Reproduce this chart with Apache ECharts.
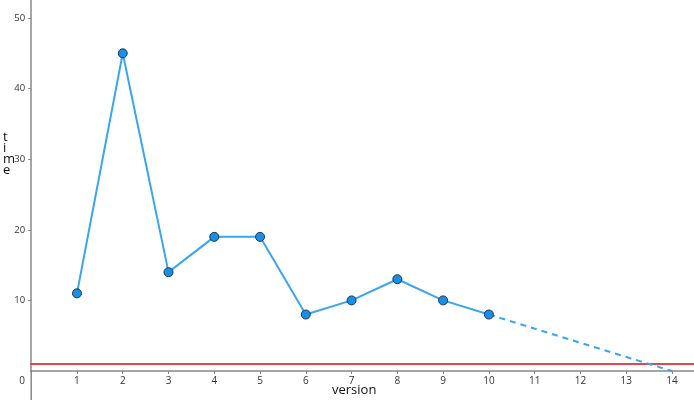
<!DOCTYPE html>
<html>
<head>
<meta charset="utf-8">
<script src="https://cdn.jsdelivr.net/npm/echarts@6/dist/echarts.min.js"></script>
<style>html,body{margin:0;padding:0;background:#fff;}#c{width:694px;height:400px;}</style>
</head>
<body>
<div id="c"></div>
<script>
const versions = [1, 2, 3, 4, 5, 6, 7, 8, 9, 10];
const times = [11, 45, 14, 19, 19, 8, 10, 13, 10, 8];
const trendX = [10, 14];
const trendY = [8, 0];
const redLevel = 1;
const xTicks = [0, 1, 2, 3, 4, 5, 6, 7, 8, 9, 10, 11, 12, 13, 14];
const yTicks = [10, 20, 30, 40, 50];
const xName = 'version';
const yName = 'time';

const chart = echarts.init(document.getElementById('c'));
const W = 694, H = 400;
const x0 = 31.2, y0 = 371;          // pixel position of origin
const pxX = 45.77, pxY = 7.06;      // pixels per unit
const xMax = (W - x0) / pxX, yMax = y0 / pxY;
const xLeft = -x0 / pxX, yBottom = -(H - y0) / pxY;

chart.setOption({
  animation: false,
  grid: { left: x0, top: 0, right: 0, bottom: H - y0, containLabel: false, outerBoundsMode: 'none' },
  xAxis: {
    type: 'value', min: 0, max: xMax,
    axisLine: { show: true, lineStyle: { color: '#888', width: 1.5 } },
    axisTick: { show: true, length: 3, customValues: xTicks, lineStyle: { color: '#888' } },
    splitLine: { show: false },
    axisLabel: {
      customValues: xTicks,
      margin: 5, fontSize: 10, color: '#333', fontFamily: 'Open Sans',
      formatter: v => v === 0 ? '{z|0}' : String(v),
      rich: { z: { fontSize: 10, color: '#333', fontFamily: 'Open Sans', padding: [0, 18, 0, 0] } }
    }
  },
  yAxis: {
    type: 'value', min: 0, max: yMax,
    axisLine: { show: true, lineStyle: { color: '#888', width: 1.5 } },
    axisTick: { show: true, length: 3, customValues: yTicks, lineStyle: { color: '#888' } },
    splitLine: { show: false },
    axisLabel: {
      customValues: yTicks,
      margin: 6, fontSize: 9.5, color: '#333', fontFamily: 'Open Sans'
    }
  },
  graphic: [
    {
      type: 'text', left: 3, top: 131,
      style: { text: yName.split('').join('\n'), font: '13px "Open Sans"', fill: '#111', lineHeight: 11, align: 'center', width: 10 }
    },
    {
      type: 'text', left: 332, top: 384,
      style: { text: xName, font: '13px "Open Sans"', fill: '#111' }
    }
  ],
  series: [
    { // axis extensions beyond the origin
      type: 'line', data: [[xLeft, 0], [0, 0]], clip: false, symbol: 'none',
      lineStyle: { color: '#888', width: 1.5 }, silent: true, z: 0
    },
    {
      type: 'line', data: [[0, 0], [0, yBottom]], clip: false, symbol: 'none',
      lineStyle: { color: '#888', width: 1.5 }, silent: true, z: 0
    },
    {
      type: 'line', data: [[xLeft, redLevel], [xMax, redLevel]], clip: false,
      symbol: 'none', lineStyle: { color: '#e0474c', width: 2 }, z: 1, silent: true
    },
    {
      type: 'line', data: trendX.map((x, i) => [x, trendY[i]]),
      symbol: 'none', lineStyle: { color: '#3aa5f0', width: 2, type: [6, 5] }, z: 2
    },
    {
      type: 'line', data: versions.map((x, i) => [x, times[i]]),
      symbol: 'circle', symbolSize: 9,
      lineStyle: { color: '#3aa5f0', width: 2 },
      itemStyle: { color: '#1a8fe8', borderColor: '#1c3550', borderWidth: 1 },
      z: 3
    }
  ]
});
</script>
</body>
</html>
